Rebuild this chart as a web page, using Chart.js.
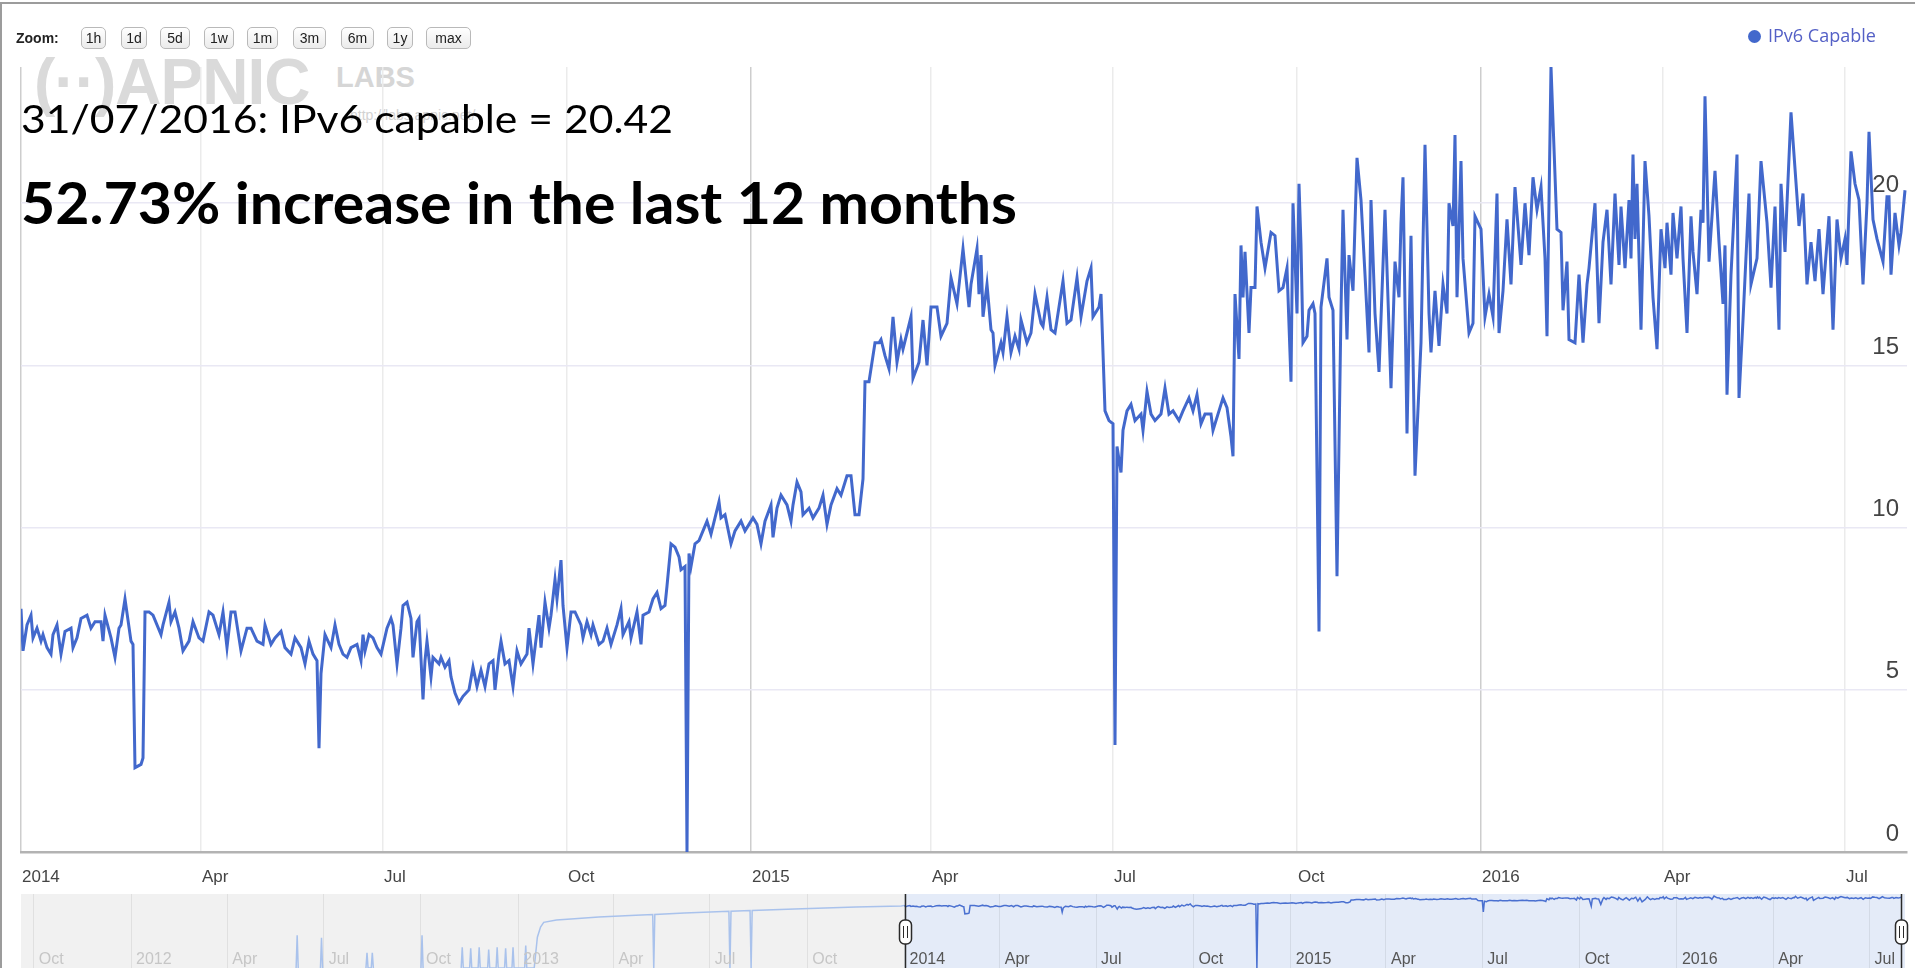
<!DOCTYPE html>
<html>
<head>
<meta charset="utf-8">
<title>IPv6 Capable</title>
<script src="https://cdn.jsdelivr.net/npm/chart.js@4.4.1/dist/chart.umd.min.js"></script>
<style>
  html, body { margin:0; padding:0; background:#fff; overflow:hidden; }
  #page { position:relative; width:1915px; height:968px; overflow:hidden; background:#fff; }
  #frame { position:absolute; left:0; top:2px; width:1915px; height:966px; box-sizing:border-box;
           border-top:2px solid #9c9c9c; border-left:2px solid #9c9c9c; }
  canvas { position:absolute; left:0; }
  #main { top:0; }
  #nav { top:894px; }
  .zl { position:absolute; left:16px; top:28px; font:bold 14px "Liberation Sans", Arial, sans-serif; color:#222; line-height:20px; }
  .zb { position:absolute; top:27px; height:22px; box-sizing:border-box; border:1px solid #b9b9b9; border-radius:5px;
        background:linear-gradient(#ffffff, #ebebeb); font:14px "Liberation Sans", Arial, sans-serif; color:#222;
        text-align:center; line-height:20px; }
  #wm1 { position:absolute; left:34px; top:50px; font:bold 64px "Liberation Sans", Arial, sans-serif; color:#dadada; line-height:1; white-space:nowrap; letter-spacing:-1px; }
  #wm2 { position:absolute; left:336px; top:63px; font:bold 29px "Liberation Sans", Arial, sans-serif; color:#d6d6d6; line-height:1; }
  #wm3 { position:absolute; left:350px; top:108px; font:14px "Liberation Sans", Arial, sans-serif; color:#d2d2d2; line-height:1; }
  .title { position:absolute; left:21px; white-space:nowrap; line-height:1; color:#000; font-family:Lato, "Open Sans", sans-serif; transform-origin:0 0; }
  #t1 { top:99px; font-size:39px; }
  #t2 { top:173px; font-size:58px; font-weight:bold; }
  #legend { position:absolute; left:1748px; top:24px; height:22px; font:18px "Open Sans", sans-serif; color:#5460c6; line-height:22px; white-space:nowrap; }
  #legend .dot { display:inline-block; width:13px; height:13px; border-radius:50%; background:#4268cc; margin-right:7px; vertical-align:-1px; }
  .navlbl { position:absolute; top:951px; font:16px "Liberation Sans", Arial, sans-serif; line-height:1; white-space:nowrap; }
</style>
</head>
<body>
<div id="page">
  <div id="frame"></div>
  <div id="wm1">(··)APNIC</div>
  <div id="wm2">LABS</div>
  <div id="wm3">http://labs.apnic.net/</div>
  <canvas id="main" width="1915" height="895" style="width:1915px;height:895px"></canvas>
  <canvas id="nav" width="1915" height="74" style="width:1915px;height:74px"></canvas>
  <div class="zl">Zoom:</div>
  <div class="zb" style="left:81px;width:25px">1h</div>
  <div class="zb" style="left:121px;width:26px">1d</div>
  <div class="zb" style="left:160px;width:30px">5d</div>
  <div class="zb" style="left:204px;width:30px">1w</div>
  <div class="zb" style="left:247px;width:31px">1m</div>
  <div class="zb" style="left:293px;width:33px">3m</div>
  <div class="zb" style="left:341px;width:33px">6m</div>
  <div class="zb" style="left:387px;width:26px">1y</div>
  <div class="zb" style="left:426px;width:45px">max</div>
  <div id="legend"><span class="dot"></span>IPv6 Capable</div>
  <div class="title" id="t1">31/07/2016: IPv6 capable = 20.42</div>
  <div class="title" id="t2">52.73% increase in the last 12 months</div>
</div>
<script>
// ─── Data (x = days since 1 Jan 2014) ───────────────────────────────────────
const ipv6Capable = [
  // Jan - May 2014
  [0,7.5],[1,6.2],[3,7.0],[5,7.3],[6,6.6],[8,6.9],[10,6.5],[11,6.7],[13,6.3],[15,6.1],[16,6.7],[18,7.0],
  [20,6.1],[22,6.8],[25,6.9],[26,6.3],[28,6.6],[30,7.2],[33,7.3],[35,6.9],[37,7.1],[40,7.1],[41,6.5],[42,7.3],
  [45,6.6],[47,6.0],[49,6.9],[50,7.0],[52,7.8],[55,6.5],[56,6.4],[57,2.6],[60,2.7],[61,2.9],[62,7.4],[64,7.4],
  [66,7.3],[70,6.7],[71,7.0],[74,7.7],[75,7.1],[77,7.4],[79,6.9],[81,6.2],[84,6.5],[86,7.1],[89,6.6],[91,6.5],
  [94,7.4],[96,7.3],[99,6.7],[101,7.4],[103,6.3],[105,7.4],[107,7.4],[110,6.2],[113,6.9],[115,6.9],[118,6.5],
  [121,6.4],[122,7.0],[125,6.4],[127,6.6],[130,6.8],[132,6.3],[135,6.1],[137,6.6],[140,6.3],[142,5.8],[144,6.5],
  [146,6.1],[148,5.9],[149,3.2],[150,5.5],[152,6.7],[155,6.3],[157,7.0],[159,6.4],
  // Jun - Nov 2014
  [161,6.1],[163,6.0],[165,6.3],[168,6.4],[170,5.9],[171,6.7],[172,6.2],[174,6.7],[176,6.6],[178,6.3],[180,6.1],
  [183,6.9],[185,7.2],[186,7.0],[188,5.8],[190,6.9],[191,7.6],[193,7.7],[195,7.2],[196,6.0],[198,7.1],[199,7.2],
  [201,4.7],[202,5.9],[203,6.5],[205,5.4],[206,6.0],[209,5.8],[210,6.0],[212,5.7],[214,5.9],[215,5.4],[217,4.9],
  [219,4.6],[221,4.8],[224,5.0],[226,5.7],[228,5.1],[230,5.6],[232,5.1],[234,5.8],[236,5.9],[237,5.0],[239,6.1],
  [240,6.5],[242,5.8],[244,5.9],[246,5.1],[248,6.2],[250,5.8],[253,6.1],[254,6.9],[256,5.8],[259,7.3],[260,6.3],
  [262,7.7],[264,6.9],[265,7.3],[267,8.4],[268,7.8],[270,9.0],[271,7.6],[273,6.3],[275,7.4],[277,7.4],[280,7.0],
  [281,6.6],[283,7.1],[285,6.7],[286,7.0],[289,6.4],[291,6.5],[293,6.9],[295,6.4],[298,7.0],[300,7.5],[301,6.7],
  [304,7.1],[305,6.6],[308,7.4],[310,6.4],[311,7.3],[314,7.4],[316,7.8],[318,8.0],
  // Nov 2014 - Apr 2015
  [320,7.5],[322,7.6],[323,8.2],[325,9.5],[327,9.4],[329,9.1],[330,8.7],[332,8.8],[333,0],[334,9.2],[335,8.8],
  [337,9.5],[339,9.6],[341,9.9],[343,10.2],[345,9.8],[347,10.3],[349,10.8],[350,10.3],[352,10.4],[355,9.5],
  [357,9.9],[360,10.2],[362,9.9],[365,10.2],[366,10.3],[368,10.1],[370,9.5],[372,10.2],[375,10.7],[376,9.7],
  [378,10.6],[380,11.0],[383,10.7],[385,10.2],[386,10.7],[388,11.4],[390,11.1],[391,10.4],[394,10.6],[396,10.3],
  [399,10.6],[401,11.0],[403,10.1],[405,10.7],[408,11.2],[410,11.0],[413,11.6],[415,11.6],[417,10.4],[419,10.4],
  [421,11.5],[422,14.5],[424,14.5],[427,15.7],[429,15.7],[430,15.8],[432,15.3],[434,14.9],[436,16.5],[438,15.1],
  [440,15.8],[441,15.5],[445,16.5],[446,14.6],[449,15.1],[451,16.4],[453,15.0],[455,16.8],[458,16.8],[460,15.9],
  [463,16.3],[465,17.7],[468,16.9],[471,18.6],[474,16.8],[475,17.5],[478,18.6],
  // Apr - Sep 2015
  [479,17.2],[480,18.4],[481,16.5],[483,17.5],[485,16.1],[486,16.0],[487,15.0],[490,15.7],[491,15.4],[493,16.5],
  [495,15.4],[497,15.9],[499,15.5],[500,16.4],[503,15.7],[505,16.0],[507,17.2],[510,16.3],[511,16.2],[513,17.1],
  [515,16.1],[517,16.0],[519,16.8],[521,17.6],[523,16.3],[525,16.4],[528,17.7],[530,16.5],[533,17.6],[535,18.0],
  [536,16.5],[539,16.8],[540,17.2],[542,13.6],[544,13.3],[546,13.2],[547,3.3],[548,12.5],[550,11.7],[551,13.0],
  [553,13.6],[555,13.8],[557,13.3],[560,13.5],[561,13.0],[563,14.2],[565,13.5],[567,13.3],[570,13.5],[572,14.3],
  [574,13.5],[576,13.6],[579,13.3],[581,13.6],[584,14.0],[586,13.6],[588,14.1],[590,13.2],[592,13.5],[595,13.5],
  [596,13.0],[599,13.6],[601,14.0],[603,13.7],[605,12.8],[606,12.2],[607,17.2],[609,15.2],[610,18.7],[611,17.1],
  [612,18.5],[614,16.0],[615,17.4],[617,17.4],[618,19.9],[620,18.8],[622,18.0],[625,19.1],[627,19.0],[629,17.3],
  [631,17.4],[633,18.0],[635,14.5],[636,20.0],
  // Oct 2015 - Mar 2016
  [638,16.6],[639,20.6],[640,18.7],[641,15.7],[643,15.9],[644,16.7],[646,16.9],[647,16.6],[649,6.8],[650,16.8],
  [653,18.3],[654,17.1],[656,16.7],[658,8.5],[660,16.7],[661,19.8],[663,15.8],[664,18.4],[666,17.3],[668,21.4],
  [670,20.1],[672,17.8],[674,15.4],[675,20.1],[677,16.6],[679,14.8],[681,18.1],[682,19.8],[685,14.3],[687,18.2],
  [689,17.1],[690,19.4],[691,20.8],[693,12.9],[695,19.0],[697,11.6],[700,15.7],[702,21.8],[704,16.6],[705,15.4],
  [707,17.3],[709,15.6],[711,17.5],[713,16.6],[714,20.0],[716,19.3],[717,22.1],[718,17.1],[720,21.3],[721,18.3],
  [724,16.0],[726,16.3],[727,19.6],[730,19.2],[732,16.5],[734,17.2],[736,16.5],[738,20.3],[739,16.0],[741,17.3],
  [743,19.5],[745,17.5],[747,20.5],[750,18.1],[752,20.0],[754,18.4],[756,20.8],[758,19.8],[760,20.5],[762,18.3],
  [763,15.9],[765,24.2],[768,19.2],[770,19.1],[771,16.7],[773,18.2],[774,15.8],[777,15.7],[779,17.8],[781,15.7],
  [783,17.5],[784,18.0],[787,20.0],[789,16.3],[791,18.8],[793,19.8],[795,17.5],[797,20.3],[799,18.1],[800,19.9],
  [802,18.0],[804,20.1],[805,18.3],
  // Mar - Jul 2016
  [806,21.5],[807,18.9],[808,20.6],[810,16.1],[812,21.3],[814,19.6],[816,17.1],[818,15.5],[820,19.2],[822,18.0],
  [823,19.4],[825,17.8],[826,19.7],[828,18.3],[830,19.9],[831,18.3],[833,16.0],[835,19.6],[836,18.5],[838,17.2],
  [840,19.8],[841,19.4],[842,23.3],[844,18.2],[847,21.0],[849,18.8],[851,16.9],[852,18.7],[853,14.1],[855,17.8],
  [858,21.5],[859,14.0],[861,16.4],[864,20.3],[865,17.5],[868,18.3],[870,21.3],[873,19.4],[875,17.4],[877,19.9],
  [879,16.1],[880,20.6],[882,18.5],[883,20.0],[885,22.8],[888,20.2],[889,19.3],[891,20.3],[893,17.5],[895,18.8],
  [897,17.6],[899,19.2],[901,17.2],[904,19.6],[906,16.1],[908,19.5],[910,18.3],[912,18.9],[913,18.1],[915,21.6],
  [917,20.6],[919,20.1],[921,17.5],[923,20.0],[924,22.2],[926,19.5],[928,18.9],[931,18.2],[933,20.2],[934,20.2],
  [935,17.8],[937,19.7],[939,18.7],[940,19.1],[942,20.4]
];

// older history only shown in the range selector (null = no data)
const historyReadings = [
  [-575,0],[-574,0.18],[-573,0],[-572,null],
  [-552,0],[-551,0.13],[-550,0],[-549,null],
  [-509,0],[-508,0.02],[-507,0],[-504,0],[-503,0.02],[-502,0],[-501,null],
  [-457,0],[-456,0.18],[-455,0],[-454,null],
  [-419,0],[-418,0.04],[-417,0],[-411,0],[-410,0.035],[-409,0],[-403,0],[-402,0.04],[-401,0],
  [-394,0],[-393,0.03],[-392,0],[-386,0],[-385,0.04],[-384,0],[-378,0],[-377,0.035],[-376,0],
  [-371,0],[-370,0.04],[-369,0],[-359,0],[-358,0.05],[-357,0],
  [-350,0],[-347,0.14],[-344,0.5],[-341,0.9],[-329,1.2],[-312,1.4],[-289,1.75],[-254,2.2],[-238,2.4],[-237,0],
  [-236,2.4],[-208,2.9],[-166,3.6],[-165,0],[-164,3.6],[-146,3.9],[-145,0],[-144,3.9],[-104,4.8],[-46,6.1],[-3,6.9]
];

const monthTicks  = [0, 90, 181, 273, 365, 455, 546, 638, 730, 821, 912];
const monthLabels = ['2014','Apr','Jul','Oct','2015','Apr','Jul','Oct','2016','Apr','Jul'];
const yearTicks   = [0, 365, 730];
const yTicks      = [0, 5, 10, 15, 20];
const navTicks    = [-823,-731,-640,-549,-457,-365,-275,-184,-92,0,90,181,273,365,455,546,638,730,821,912];
const navLabels   = ['Oct','2012','Apr','Jul','Oct','2013','Apr','Jul','Oct','2014','Apr','Jul','Oct','2015','Apr','Jul','Oct','2016','Apr','Jul'];

const BLUE = '#4268cc';
const NAV_FLOOR = 0.003;   // bottom of the log-scaled selector; zero readings sit on it
const toPts = arr => arr.map(p => ({ x: p[0], y: p[1] }));
const toNavPts = arr => arr.map(p => ({ x: p[0], y: p[1] === 0 ? NAV_FLOOR : p[1] }));

// ─── Main chart ─────────────────────────────────────────────────────────────
new Chart(document.getElementById('main'), {
  type: 'line',
  data: { datasets: [{
    label: 'IPv6 Capable', data: toPts(ipv6Capable),
    borderColor: BLUE, borderWidth: 3, pointRadius: 0, tension: 0, fill: false
  }]},
  options: {
    responsive: false, animation: false, events: [],
    layout: { padding: { left: 21, right: 8, top: 67, bottom: 0 } },
    plugins: { legend: { display: false }, tooltip: { enabled: false } },
    scales: {
      x: {
        type: 'linear', min: 0, max: 943,
        afterBuildTicks: s => { s.ticks = monthTicks.map(v => ({ value: v })); },
        afterFit: s => { s.height = 43; s.paddingLeft = 0; s.paddingRight = 0; },
        ticks: {
          autoSkip: false, maxRotation: 0, align: 'start', padding: 15, labelOffset: 1,
          color: '#444', font: { family: 'Liberation Sans', size: 17 },
          callback: v => monthLabels[monthTicks.indexOf(v)]
        },
        grid: { drawTicks: false, lineWidth: 1.5,
                color: c => yearTicks.includes(c.tick && c.tick.value) ? '#cdcdcd' : '#ebebeb' },
        border: { display: true, color: '#b3b3b3', width: 2.5 }
      },
      y: {
        position: 'right', min: 0, max: 24.2,
        afterBuildTicks: s => { s.ticks = yTicks.map(v => ({ value: v })); },
        afterFit: s => { s.width = 0; },
        ticks: { mirror: true, padding: -8, labelOffset: -18, color: '#444',
                 font: { family: 'Liberation Sans', size: 24 } },
        grid: { drawTicks: false, color: '#e9e8f4', lineWidth: 1.5 },
        border: { display: false }
      }
    }
  }
});

// ─── Range selector (navigator) ─────────────────────────────────────────────
const navShade = {
  id: 'navShade',
  beforeDraw(chart) {
    const { ctx, chartArea: a, scales: { x } } = chart;
    const x0 = x.getPixelForValue(0);
    ctx.save();
    ctx.fillStyle = '#f1f1f1';
    ctx.fillRect(a.left, a.top, x0 - a.left, a.bottom - a.top);
    ctx.fillStyle = '#e4ebf8';
    ctx.fillRect(x0, a.top, a.right - x0, a.bottom - a.top);
    ctx.restore();
  },
  afterDraw(chart) {
    const { ctx, chartArea: a, scales: { x } } = chart;
    ctx.save();
    [0, 942].forEach(d => {
      const hx = Math.round(x.getPixelForValue(d)) + 0.5;
      ctx.strokeStyle = '#2a2a2a'; ctx.lineWidth = 1.5;
      ctx.beginPath(); ctx.moveTo(hx, a.top); ctx.lineTo(hx, a.bottom); ctx.stroke();
      const w = 12, h = 24, gy = 26;
      ctx.beginPath(); ctx.roundRect(hx - w / 2, gy, w, h, 5);
      ctx.fillStyle = '#fff'; ctx.fill(); ctx.stroke();
      ctx.lineWidth = 1;
      ctx.beginPath();
      ctx.moveTo(hx - 2, gy + 6); ctx.lineTo(hx - 2, gy + h - 6);
      ctx.moveTo(hx + 2, gy + 6); ctx.lineTo(hx + 2, gy + h - 6);
      ctx.stroke();
    });
    ctx.restore();
  }
};

const navChart = new Chart(document.getElementById('nav'), {
  type: 'line',
  data: { datasets: [{
    data: toNavPts(historyReadings).concat(toNavPts(ipv6Capable)),
    borderWidth: 1.5, pointRadius: 0, tension: 0, spanGaps: false, borderColor: BLUE,
    segment: { borderColor: c => c.p1.parsed.x <= 0 ? '#a9c2ec' : '#4a70d0' }
  }]},
  options: {
    responsive: false, animation: false, events: [],
    layout: { padding: { left: 21, right: 10, top: 0, bottom: 0 } },
    plugins: { legend: { display: false }, tooltip: { enabled: false } },
    scales: {
      x: {
        type: 'linear', min: -835, max: 945.5,
        afterBuildTicks: s => { s.ticks = navTicks.map(v => ({ value: v })); },
        afterFit: s => { s.height = 0; s.paddingLeft = 0; s.paddingRight = 0; },
        ticks: { display: false },
        grid: { drawTicks: false, color: 'rgba(0,0,0,0.07)', lineWidth: 1 },
        border: { display: false }
      },
      y: { type: 'logarithmic', min: NAV_FLOOR, max: 31, display: false }
    }
  },
  plugins: [navShade]
});

// selector date labels, placed with the selector's own x scale
const navX = navChart.scales.x;
const page = document.getElementById('page');
navTicks.forEach((d, i) => {
  const el = document.createElement('div');
  el.className = 'navlbl';
  el.textContent = navLabels[i];
  el.style.left = (navX.getPixelForValue(d) + 5) + 'px';
  el.style.color = d < 0 ? '#c6c6c6' : '#555';
  page.appendChild(el);
});

// ─── Headline text widths ───────────────────────────────────────────────────
function fitWidth(id, target) {
  const el = document.getElementById(id);
  const w = el.getBoundingClientRect().width;
  if (w > 0) el.style.transform = 'scaleX(' + (target / w) + ')';
}
fitWidth('t1', 652);
fitWidth('t2', 996);
</script>
</body>
</html>
